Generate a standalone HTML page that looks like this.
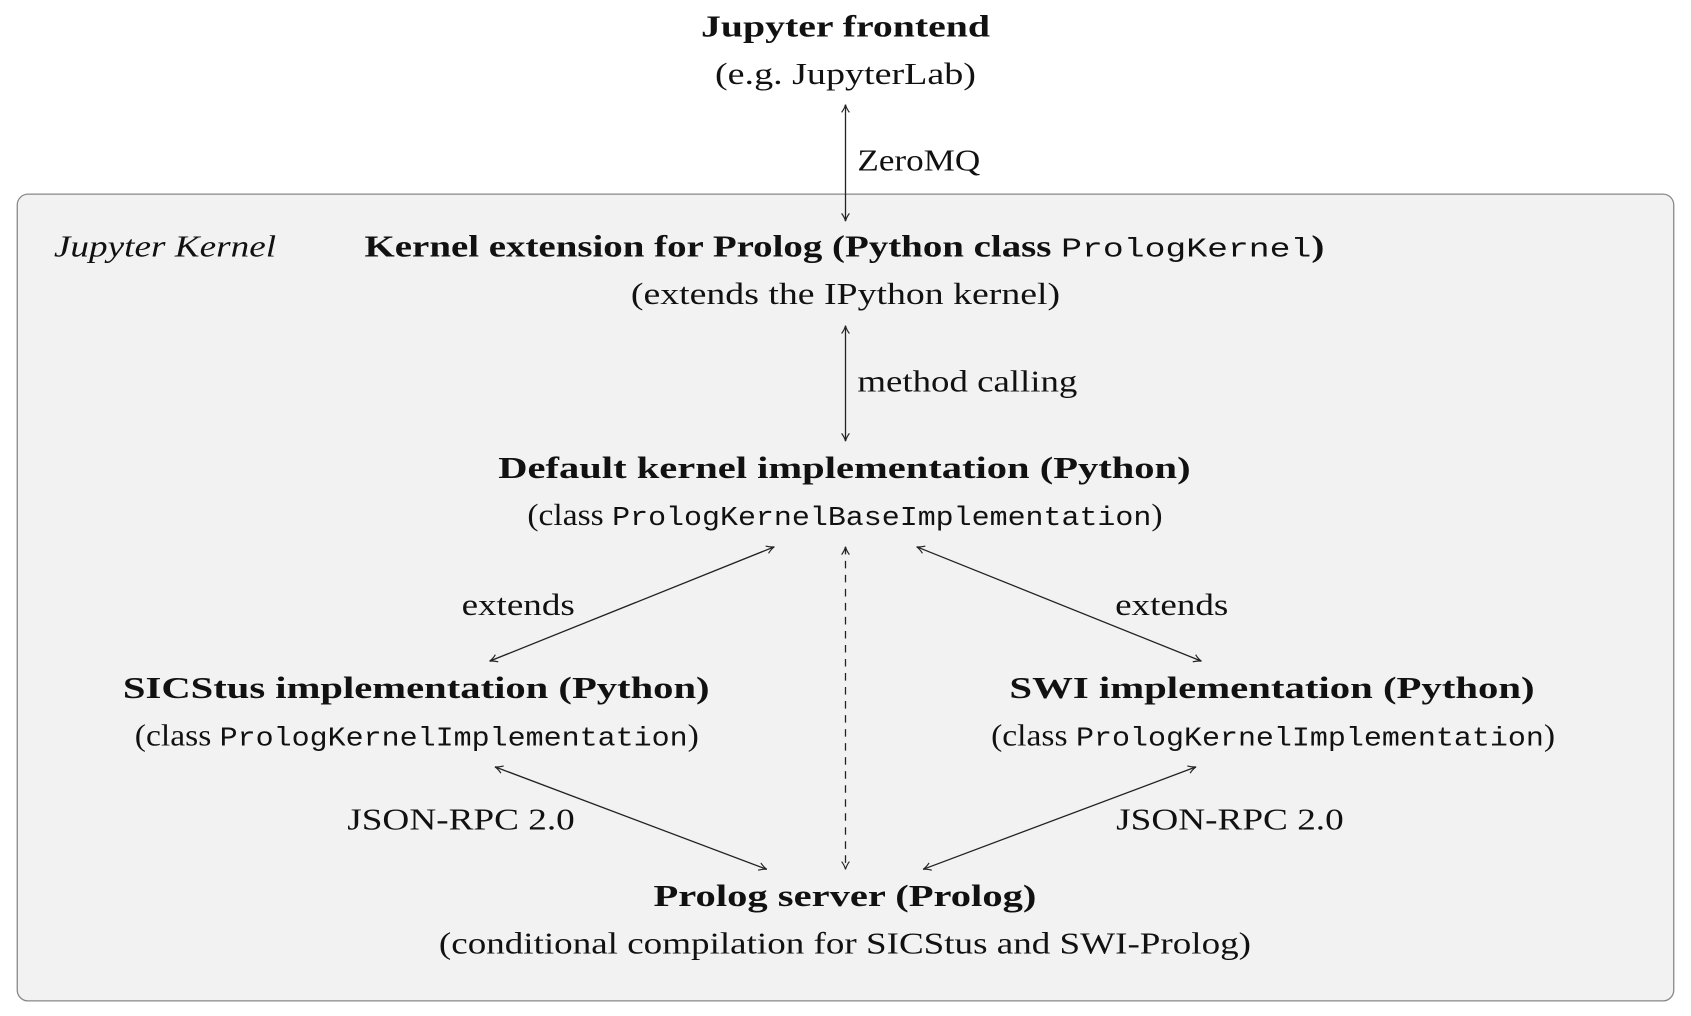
<!DOCTYPE html>
<html><head><meta charset="utf-8"><style>
html,body{margin:0;padding:0;background:#fff;}
svg{display:block;}
text{font-family:"Liberation Serif",serif;fill:#111;font-size:28px;}
.b{font-weight:bold;}
.m{font-family:"Liberation Mono",monospace;font-size:25px;}
line{stroke:#222;stroke-width:1.2;}
</style></head><body>
<svg width="1691" height="1016" viewBox="0 0 1568 942" preserveAspectRatio="none">
<defs>
<marker id="ah" viewBox="0 0 10 10" refX="9" refY="5" markerWidth="9" markerHeight="9" markerUnits="userSpaceOnUse" orient="auto-start-reverse">
<path d="M1,1 Q5,4 9,5 Q5,6 1,9" fill="none" stroke="#222" stroke-width="1.2"/>
</marker>
</defs>
<rect x="16" y="180" width="1536" height="748" rx="10" fill="#f2f2f2" stroke="#888" stroke-width="1.2"/>

<text class="b" x="784" y="34" text-anchor="middle" textLength="268" lengthAdjust="spacingAndGlyphs">Jupyter frontend</text>
<text x="784" y="78" text-anchor="middle" textLength="242" lengthAdjust="spacingAndGlyphs">(e.g. JupyterLab)</text>
<line x1="784" y1="97" x2="784" y2="205" marker-start="url(#ah)" marker-end="url(#ah)"/>
<text x="795" y="158" textLength="114" lengthAdjust="spacingAndGlyphs">ZeroMQ</text>

<text x="50" y="238" font-style="italic" textLength="206" lengthAdjust="spacingAndGlyphs">Jupyter Kernel</text>
<text class="b" x="338" y="238" textLength="890" lengthAdjust="spacingAndGlyphs">Kernel extension for Prolog (Python class <tspan class="m" font-weight="normal">PrologKernel</tspan>)</text>
<text x="585" y="282" textLength="398" lengthAdjust="spacingAndGlyphs">(extends the IPython kernel)</text>
<line x1="784" y1="302" x2="784" y2="409" marker-start="url(#ah)" marker-end="url(#ah)"/>
<text x="795" y="363" textLength="204" lengthAdjust="spacingAndGlyphs">method calling</text>

<text class="b" x="462" y="443" textLength="642" lengthAdjust="spacingAndGlyphs">Default kernel implementation (Python)</text>
<text x="489" y="487" textLength="589" lengthAdjust="spacingAndGlyphs">(class <tspan class="m">PrologKernelBaseImplementation</tspan>)</text>

<line x1="718" y1="507" x2="454" y2="613" marker-start="url(#ah)" marker-end="url(#ah)"/>
<line x1="850" y1="507" x2="1114" y2="613" marker-start="url(#ah)" marker-end="url(#ah)"/>
<line x1="784" y1="507" x2="784" y2="806" stroke-dasharray="7,6" marker-start="url(#ah)" marker-end="url(#ah)"/>
<text x="428" y="570" textLength="105" lengthAdjust="spacingAndGlyphs">extends</text>
<text x="1034" y="570" textLength="105" lengthAdjust="spacingAndGlyphs">extends</text>

<text class="b" x="114" y="647" textLength="544" lengthAdjust="spacingAndGlyphs">SICStus implementation (Python)</text>
<text x="125" y="691" textLength="523" lengthAdjust="spacingAndGlyphs">(class <tspan class="m">PrologKernelImplementation</tspan>)</text>
<text class="b" x="936" y="647" textLength="487" lengthAdjust="spacingAndGlyphs">SWI implementation (Python)</text>
<text x="919" y="691" textLength="523" lengthAdjust="spacingAndGlyphs">(class <tspan class="m">PrologKernelImplementation</tspan>)</text>

<line x1="459" y1="711" x2="711" y2="806" marker-start="url(#ah)" marker-end="url(#ah)"/>
<line x1="1109" y1="711" x2="856" y2="806" marker-start="url(#ah)" marker-end="url(#ah)"/>
<text x="322" y="769" textLength="211" lengthAdjust="spacingAndGlyphs">JSON-RPC 2.0</text>
<text x="1035" y="769" textLength="211" lengthAdjust="spacingAndGlyphs">JSON-RPC 2.0</text>

<text class="b" x="606" y="840" textLength="355" lengthAdjust="spacingAndGlyphs">Prolog server (Prolog)</text>
<text x="407" y="884" textLength="753" lengthAdjust="spacingAndGlyphs">(conditional compilation for SICStus and SWI-Prolog)</text>
</svg>
</body></html>
